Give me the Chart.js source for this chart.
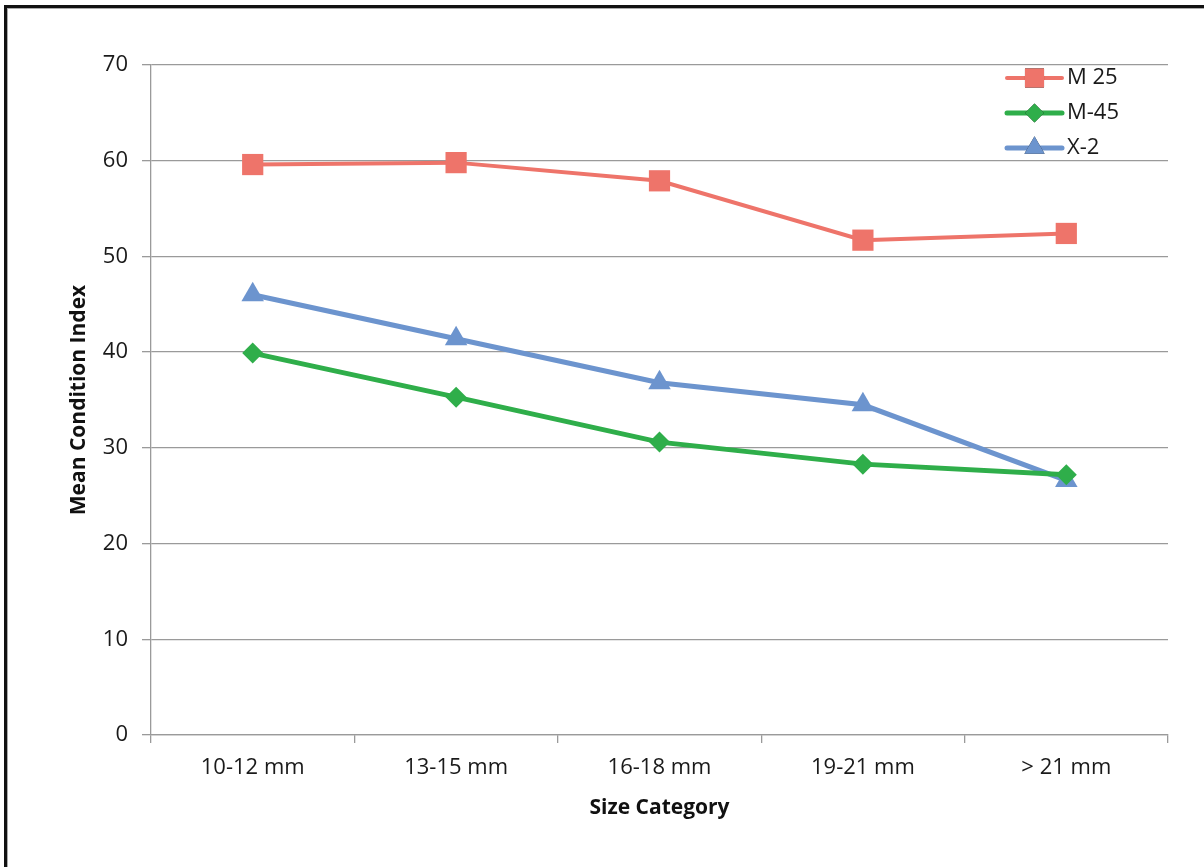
<!DOCTYPE html>
<html>
<head>
<meta charset="utf-8">
<script src="https://cdn.jsdelivr.net/npm/chart.js@4/dist/chart.umd.min.js"></script>
<style>
  html, body { margin: 0; padding: 0; background: #fff; }
  #wrap { position: relative; width: 1204px; height: 867px; overflow: hidden; }
  canvas { position: absolute; left: 0; top: 0; }
  #frame { position: absolute; left: 4px; top: 5px; width: 1210px; height: 870px;
           border-left: 3px solid #111; border-top: 3px solid #111; pointer-events: none; }
  #frame2 { position: absolute; left: 7px; top: 8px; width: 1210px; height: 870px;
            border-left: 1px solid #aaa; border-top: 1px solid #aaa; pointer-events: none; }
</style>
</head>
<body>
<div id="wrap">
  <canvas id="c" width="1204" height="867"></canvas>
  <div id="frame"></div>
  <div id="frame2"></div>
</div>
<script>
// Size classes on the x axis
const categories = ['10-12 mm', '13-15 mm', '16-18 mm', '19-21 mm', '> 21 mm'];

// Mean condition index per size class
const m25 = [59.6, 59.8, 57.9, 51.7, 52.4];
const m45 = [39.9, 35.3, 30.6, 28.3, 27.2];
const x2  = [46.0, 41.4, 36.8, 34.5, 26.6];

const yTicks = [0, 10, 20, 30, 40, 50, 60, 70];

const RED = '#EE746A', GREEN = '#2FAE4A', BLUE = '#6C94CE';
const FONT = "'Open Sans', 'Noto Sans', sans-serif";

const series = [
  { label: 'M 25', data: m25, color: RED,   width: 4, style: 'rect',     radius: 15 },
  { label: 'M-45', data: m45, color: GREEN, width: 5, style: 'rectRot',  radius: 10.5 },
  { label: 'X-2',  data: x2,  color: BLUE,  width: 5, style: 'triangle', radius: 13 }
];

// Legend drawn inside the plot, top right
const insideLegend = {
  id: 'insideLegend',
  afterDraw(chart) {
    const ctx = chart.ctx;
    const x0 = 1007, x1 = 1062, tx = 1067;
    const rows = [78, 113, 148];
    ctx.save();
    series.forEach((s, i) => {
      const y = rows[i];
      ctx.strokeStyle = s.color;
      ctx.lineWidth = s.width;
      ctx.lineCap = 'round';
      ctx.beginPath();
      ctx.moveTo(x0, y);
      ctx.lineTo(x1, y);
      ctx.stroke();
      Chart.helpers.drawPoint(ctx, {
        pointStyle: s.style, radius: s.radius * 0.9, rotation: 0, borderWidth: 0
      }, (x0 + x1) / 2, y);
      ctx.fillStyle = s.color;
      ctx.fill();
      ctx.fillStyle = '#1a1a1a';
      ctx.font = "22px " + FONT;
      ctx.textAlign = 'left';
      ctx.textBaseline = 'middle';
      ctx.fillText(s.label, tx, y);
    });
    ctx.restore();
  }
};

new Chart(document.getElementById('c'), {
  type: 'line',
  data: {
    labels: categories,
    datasets: series.map(s => ({
      label: s.label,
      data: s.data,
      borderColor: s.color,
      backgroundColor: s.color,
      borderWidth: s.width,
      pointStyle: s.style,
      pointRadius: s.radius,
      pointHoverRadius: s.radius,
      pointBackgroundColor: s.color,
      pointBorderColor: s.color,
      pointBorderWidth: 0,
      tension: 0,
      fill: false
    }))
  },
  options: {
    responsive: false,
    animation: false,
    devicePixelRatio: 1,
    layout: { padding: { left: 0, top: 65, right: 36, bottom: 0 } },
    plugins: {
      legend: { display: false },
      tooltip: { enabled: false },
      title: { display: false }
    },
    scales: {
      x: {
        type: 'category',
        offset: true,
        afterFit(scale) { scale.height = 132; },
        grid: {
          offset: true,
          drawOnChartArea: false,
          drawTicks: true,
          tickLength: 8,
          color: '#9a9a9a',
          lineWidth: 1.3
        },
        border: { display: true, color: '#9a9a9a', width: 1.3 },
        ticks: {
          color: '#1a1a1a',
          font: { family: FONT, size: 22 },
          padding: 12,
          maxRotation: 0
        },
        title: {
          display: true,
          text: 'Size Category',
          color: '#111',
          font: { family: FONT, size: 21, weight: 'bold' },
          padding: { top: 0, bottom: 46 }
        }
      },
      y: {
        min: 0,
        max: 70,
        afterFit(scale) { scale.width = 151; },
        afterBuildTicks(scale) { scale.ticks = yTicks.map(v => ({ value: v })); },
        grid: {
          drawTicks: true,
          tickLength: 9,
          color: '#9a9a9a',
          lineWidth: 1.3
        },
        border: { display: true, color: '#9a9a9a', width: 1.3 },
        ticks: {
          color: '#1a1a1a',
          font: { family: FONT, size: 22 },
          padding: 14
        },
        title: {
          display: true,
          text: 'Mean Condition Index',
          color: '#111',
          font: { family: FONT, size: 21, weight: 'bold' },
          padding: { top: 66, bottom: 0 }
        }
      }
    }
  },
  plugins: [insideLegend]
});
</script>
</body>
</html>
